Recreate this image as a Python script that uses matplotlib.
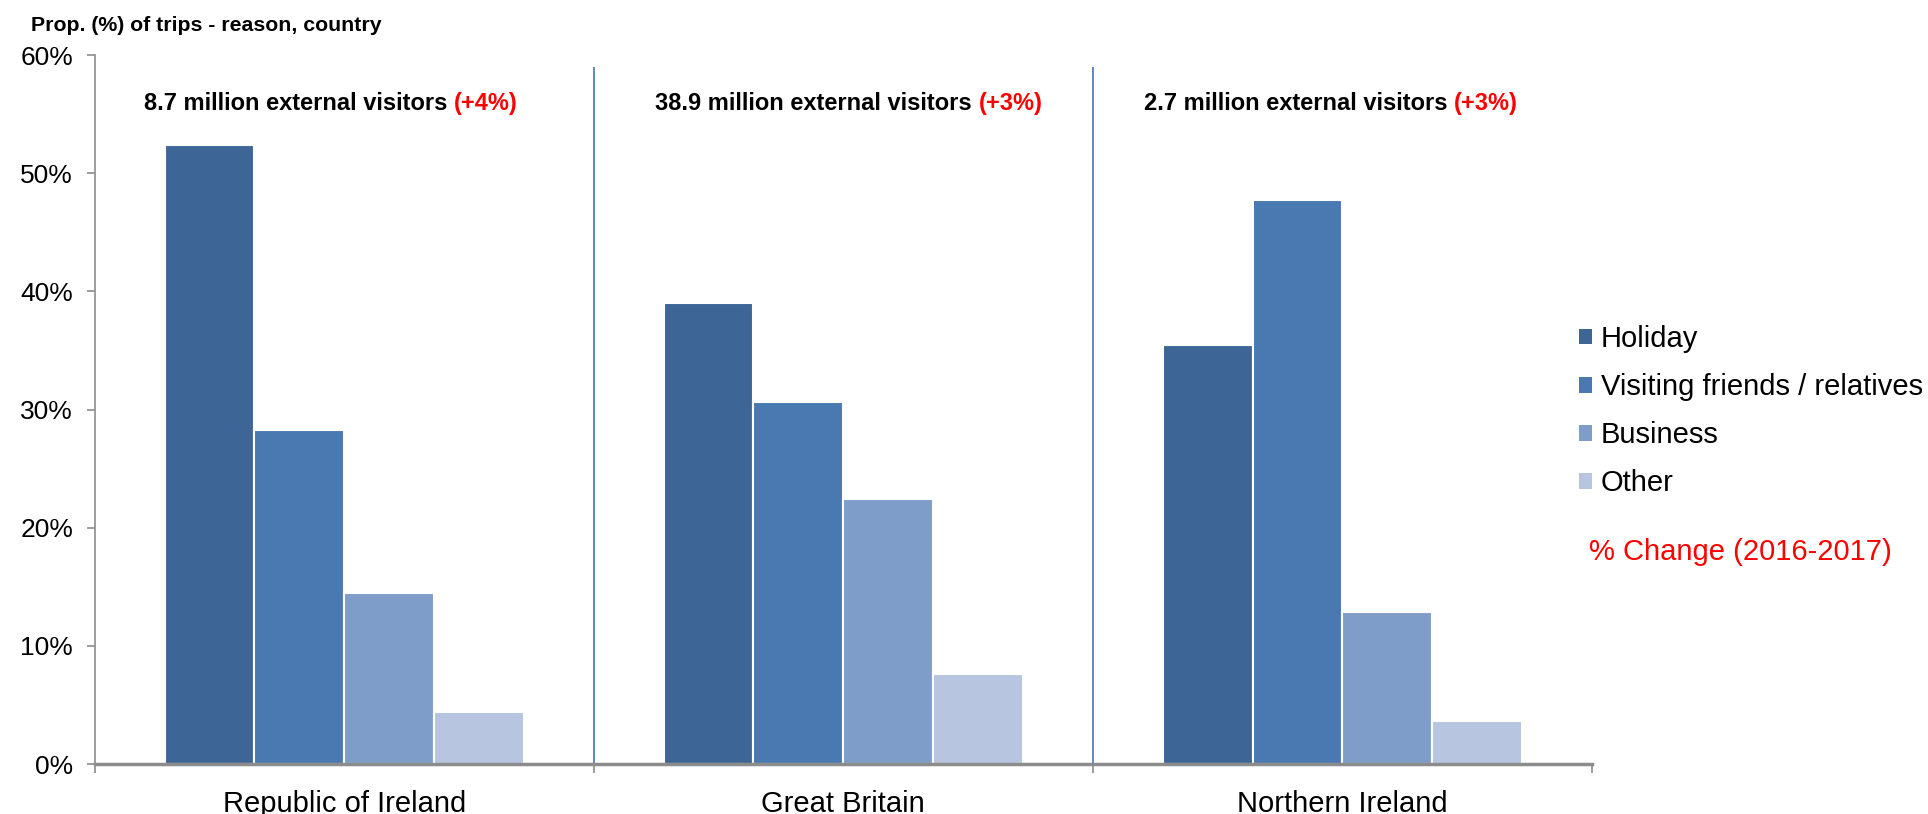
import numpy as np
import matplotlib
matplotlib.use("Agg")
import matplotlib.pyplot as plt
from matplotlib.patches import Patch

plt.rcParams['font.family'] = ['Liberation Sans', 'DejaVu Sans']

# data
countries = ['Republic of Ireland', 'Great Britain', 'Northern Ireland']
reasons = ['Holiday', 'Visiting friends / relatives', 'Business', 'Other']
holiday = [52.4, 39.0, 35.5]
vfr = [28.3, 30.6, 47.7]
business = [14.5, 22.4, 12.9]
other = [4.4, 7.6, 3.6]
visitors = ['8.7 million external visitors', '38.9 million external visitors', '2.7 million external visitors']
change = ['(+4%)', '(+3%)', '(+3%)']

colors = ['#3D6696', '#4979B0', '#7F9DC9', '#B7C5E0']
series = [holiday, vfr, business, other]

fig = plt.figure(figsize=(19.28, 8.14), dpi=100)
ax = fig.add_axes([0.0491, 0.0614, 0.7766, 0.8710])

centers = np.arange(len(countries)) + 0.5
bw = 0.18
for i, (vals, c) in enumerate(zip(series, colors)):
    xs = centers + (i - 1.5) * bw
    ax.bar(xs, vals, width=bw, color=c, edgecolor='white', linewidth=1.5, zorder=2)

ax.set_xlim(0, 3)
ax.set_ylim(0, 60)
ax.set_yticks(np.arange(0, 61, 10))
ax.set_yticklabels([f'{v}%' for v in range(0, 61, 10)], fontsize=19)
ax.tick_params(axis='y', length=5.5, width=1.2, color='#8C8C8C', pad=10)

ax.set_xticks([0, 1, 2, 3])
ax.set_xticklabels([])
ax.tick_params(axis='x', which='major', length=6.5, width=1.2, color='#8C8C8C')
ax.set_xticks(centers, minor=True)
ax.set_xticklabels(countries, minor=True, fontsize=21)
ax.tick_params(axis='x', which='minor', length=0, pad=18.5)

for s in ['top', 'right']:
    ax.spines[s].set_visible(False)
ax.spines['left'].set_color('#8C8C8C')
ax.spines['left'].set_linewidth(1.2)
ax.spines['bottom'].set_color('#8C8C8C')
ax.spines['bottom'].set_linewidth(2.5)

# separators between countries
ax.vlines([1, 2], 0, 59.0, color='#4F81BD', linewidth=1.3, zorder=1)

# visitor totals
text_x = [0.098, 1.123, 2.102]
for x, v, ch in zip(text_x, visitors, change):
    t = ax.text(x, 55.9, v + ' ', fontsize=17, fontweight='bold', ha='left', va='center')
    ax.annotate(ch, xy=(1, 0), xycoords=t, fontsize=17, fontweight='bold',
                color='#FF0000', ha='left', va='bottom')

fig.text(0.016, 0.969, 'Prop. (%) of trips - reason, country', fontsize=15.3,
         fontweight='bold', ha='left', va='center')

handles = [Patch(facecolor=c, edgecolor='none') for c in colors]
fig.legend(handles, reasons, loc='upper left', bbox_to_anchor=(1579 / 1928, 1 - 325 / 814),
           frameon=False, fontsize=21, handlelength=0.45, handleheight=0.45,
           handletextpad=0.3, labelspacing=0.69, borderpad=0, borderaxespad=0)

fig.text(1589 / 1928, 1 - 552 / 814, '% Change (2016-2017)', fontsize=21,
         color='#FF0000', ha='left', va='center')

fig.savefig('out.png', dpi=100)
